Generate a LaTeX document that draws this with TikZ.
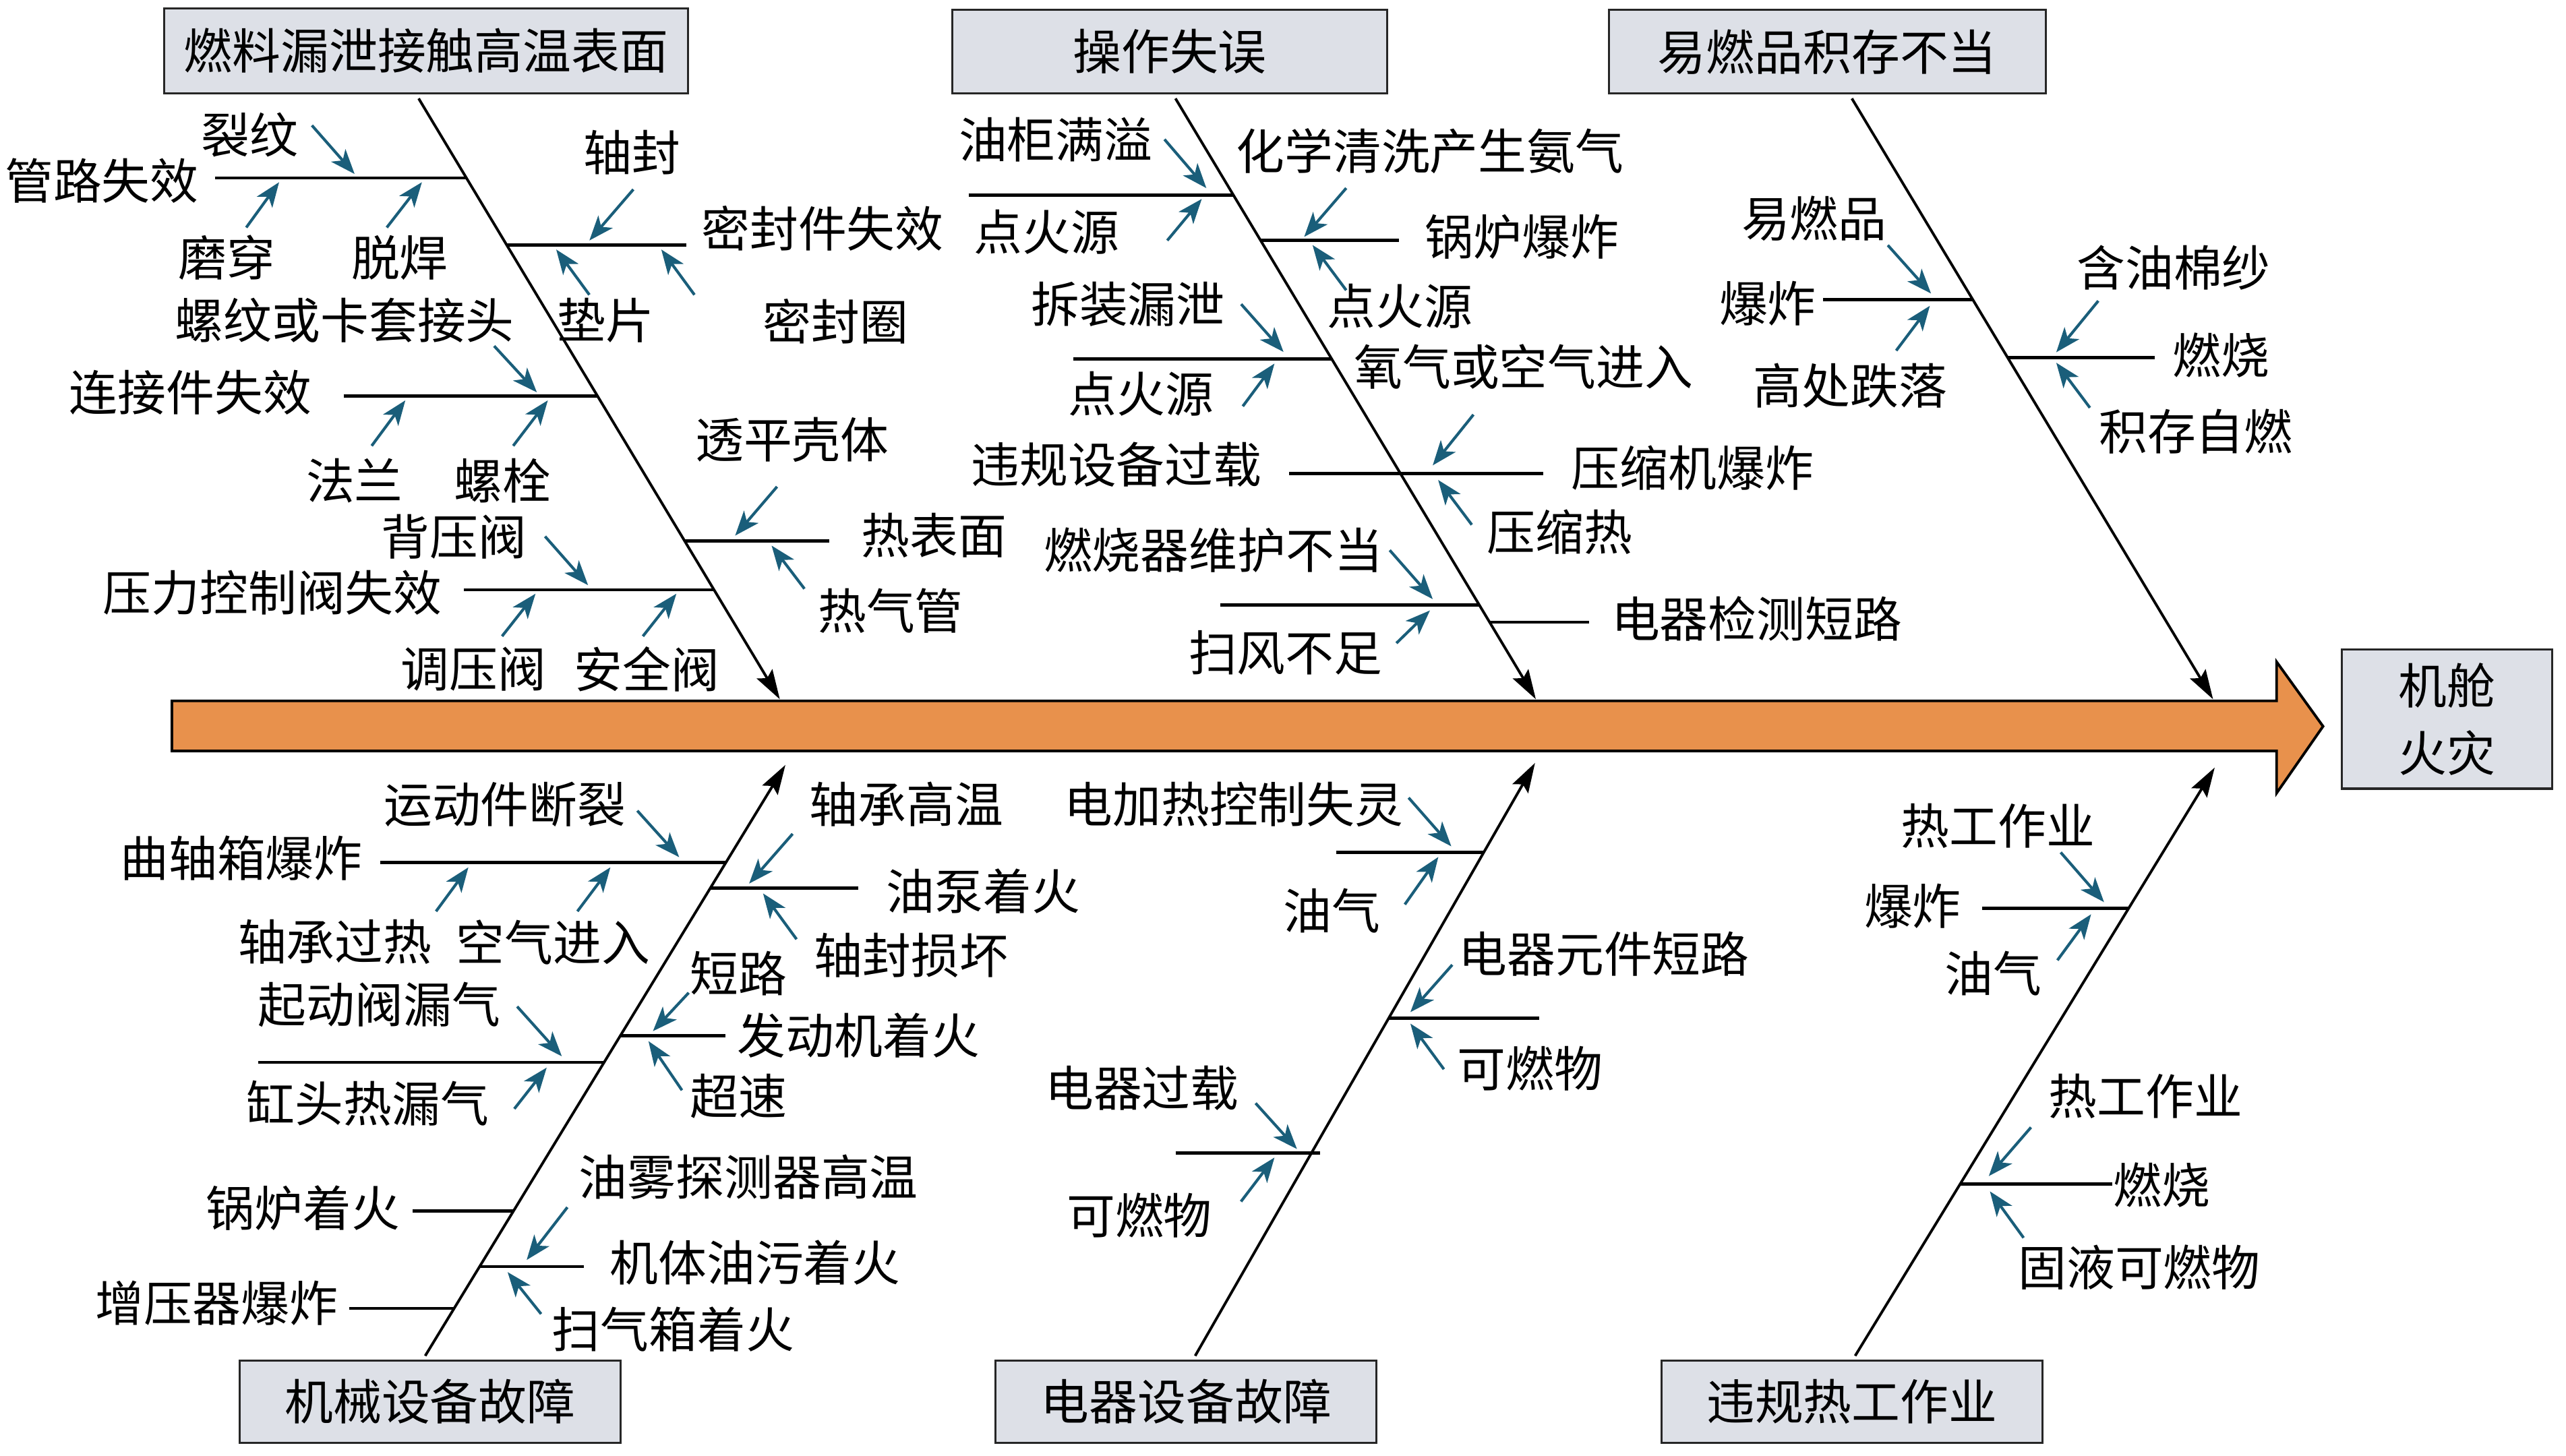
\documentclass[tikz,border=0pt]{standalone}
\usepackage{fontspec}
\setmainfont{Noto Sans CJK SC}
\usetikzlibrary{arrows.meta}
\definecolor{cbox}{RGB}{221,224,231}
\definecolor{corange}{RGB}{232,145,76}
\definecolor{cblue}{RGB}{26,94,122}
\begin{document}
\begin{tikzpicture}[x=1pt,y=-1pt,
  every node/.style={font=\fontsize{29.5}{33}\selectfont, inner sep=0pt, text=black},
  catbox/.style={draw=black!85, fill=cbox, line width=1.3pt, minimum height=51pt},
  branch/.style={line width=1.9pt, black},
  spine/.style={line width=1.6pt, black, -{Stealth[length=18pt,width=11pt,inset=3pt]}},
  cause/.style={cblue, line width=1.7pt, -{Stealth[length=15pt,width=11.5pt,inset=4pt]}}]
\useasboundingbox (0,0) rectangle (1563,887);
% main arrow
\draw[fill=corange, line width=1.6pt, line join=miter]
  (104.7,427) -- (1386.7,427) -- (1386.7,403.2) -- (1415,442.5) -- (1386.7,483.2)
  -- (1386.7,457.5) -- (104.7,457.5) -- cycle;
% effect box
\node[catbox, minimum width=128pt, minimum height=85pt, align=center,
  font=\fontsize{29.5}{41}\selectfont] (effect) at (1490.5,438) {机舱\\火灾};
% category boxes
\node[catbox, minimum width=319pt, minimum height=52pt] (c1) at (259.5,31) {燃料漏泄接触高温表面};
\node[catbox, minimum width=265pt] (c2) at (712.5,31.5) {操作失误};
\node[catbox, minimum width=266pt] (c3) at (1113,31.5) {易燃品积存不当};
\node[catbox, minimum width=232pt, minimum height=50pt] (c4) at (262,854) {机械设备故障};
\node[catbox, minimum width=232pt, minimum height=50pt] (c5) at (722.5,854) {电器设备故障};
\node[catbox, minimum width=232pt, minimum height=50pt] (c6) at (1128,854) {违规热工作业};
% spines
\coordinate (s1a) at (255,60);   \coordinate (s1b) at (475,426);
\coordinate (s2a) at (716,60);   \coordinate (s2b) at (935.5,426);
\coordinate (s3a) at (1128,60);  \coordinate (s3b) at (1348,426);
\coordinate (s4a) at (259,826);  \coordinate (s4b) at (478.4,466);
\coordinate (s5a) at (728,826);  \coordinate (s5b) at (935,464.8);
\coordinate (s6a) at (1130,826); \coordinate (s6b) at (1349,467.6);
\draw[spine] (s1a) -- (s1b);
\draw[spine] (s2a) -- (s2b);
\draw[spine] (s3a) -- (s3b);
\draw[spine] (s4a) -- (s4b);
\draw[spine] (s5a) -- (s5b);
\draw[spine] (s6a) -- (s6b);
% ---------- category 1 ----------
\draw[branch] (131,108.4) -- (284.1,108.4);
\draw[branch] (308.7,149.4) -- (418,149.4);
\draw[branch] (209.4,241.3) -- (364,241.3);
\draw[branch] (417.1,329.6) -- (505,329.6);
\draw[branch] (282.6,359.3) -- (434.9,359.3);
\node (a1) at (62,110) {管路失效};
\node (a2) at (152,82) {裂纹};
\node (a3) at (138,157) {磨穿};
\node (a4) at (243.5,157) {脱焊};
\node (a5) at (501,139) {密封件失效};
\node (a6) at (385,93) {轴封};
\node (a7) at (369,195) {垫片};
\node (a8) at (509,196) {密封圈};
\node (a9) at (210,195) {螺纹或卡套接头};
\node (a10) at (116,239) {连接件失效};
\node (a11) at (216,293) {法兰};
\node (a12) at (306,293) {螺栓};
\node (a13) at (276.5,327) {背压阀};
\node (a14) at (166,361) {压力控制阀失效};
\node (a15) at (288.5,407.5) {调压阀};
\node (a16) at (394,407.5) {安全阀};
\node (a17) at (482.5,268) {透平壳体};
\node (a18) at (569,326) {热表面};
\node (a19) at (542.5,372) {热气管};
\draw[cause] (190,76.4) -- (216,106);
\draw[cause] (150,138.6) -- (170,111);
\draw[cause] (235.6,138.6) -- (257,111);
\draw[cause] (385.8,115.4) -- (359,146.5);
\draw[cause] (359,179.6) -- (338.8,152);
\draw[cause] (423,179.6) -- (402.8,152);
\draw[cause] (301,210.8) -- (327,239);
\draw[cause] (226.4,271.6) -- (246.9,243.9);
\draw[cause] (312.6,271.6) -- (333.7,243.9);
\draw[cause] (332,326.8) -- (358.2,356.5);
\draw[cause] (305.8,387.6) -- (326.2,361.7);
\draw[cause] (391.6,387.6) -- (412,361.7);
\draw[cause] (473.3,296.5) -- (447.8,326.3);
\draw[cause] (490,358.7) -- (470,332.4);
% ---------- category 2 ----------
\draw[branch] (590,118.8) -- (751.3,118.8);
\draw[branch] (767.9,146.5) -- (852,146.5);
\draw[branch] (653.8,218.7) -- (811.2,218.7);
\draw[branch] (785.2,288.6) -- (940.1,288.6);
\draw[branch] (743.3,368.6) -- (901.1,368.6);
\draw[branch] (907.3,379) -- (968,379);
\node (b1) at (643,85) {油柜满溢};
\node (b2) at (637.5,141.5) {点火源};
\node (b3) at (871,92) {化学清洗产生氨气};
\node (b4) at (927,144.3) {锅炉爆炸};
\node (b5) at (852.6,186.7) {点火源};
\node (b6) at (687,185.3) {拆装漏泄};
\node (b7) at (695,240) {点火源};
\node (b8) at (928,223.5) {氧气或空气进入};
\node (b9) at (680,283) {违规设备过载};
\node (b10) at (1031,285) {压缩机爆炸};
\node (b11) at (950,324) {压缩热};
\node (b12) at (739,335) {燃烧器维护不当};
\node (b13) at (783,397.5) {扫风不足};
\node (b14) at (1070,377) {电器检测短路};
\draw[cause] (709.3,84.9) -- (734.8,114.6);
\draw[cause] (711,146.5) -- (732,121.2);
\draw[cause] (820,114.6) -- (794.4,144.3);
\draw[cause] (820,176.8) -- (799.5,149.3);
\draw[cause] (756,185.3) -- (781.8,214.4);
\draw[cause] (757,247.5) -- (776.3,221.5);
\draw[cause] (897.5,252.6) -- (872.7,283.5);
\draw[cause] (896.5,319.7) -- (876,292.4);
\draw[cause] (846.5,335.2) -- (872.7,365);
\draw[cause] (850.6,391.8) -- (871,371.9);
% ---------- category 3 ----------
\draw[branch] (1110.5,182.5) -- (1201.6,182.5);
\draw[branch] (1222.8,217.8) -- (1312.4,217.8);
\node (d1) at (1105,133) {易燃品};
\node (d2) at (1076.7,185) {爆炸};
\node (d3) at (1127,235) {高处跌落};
\node (d4) at (1324,163) {含油棉纱};
\node (d5) at (1353,216.4) {燃烧};
\node (d6) at (1337.5,263) {积存自燃};
\draw[cause] (1149.9,149.4) -- (1176.2,178.8);
\draw[cause] (1155,213.6) -- (1175.5,186.3);
\draw[cause] (1278.1,183.3) -- (1252.5,214.6);
\draw[cause] (1273,248.4) -- (1252.5,221);
% ---------- category 4 ----------
\draw[branch] (231.5,525.5) -- (442.1,525.5);
\draw[branch] (432.6,541.1) -- (522.7,541.1);
\draw[branch] (157.3,647.2) -- (368,647.2);
\draw[branch] (377.8,631) -- (442,631);
\draw[branch] (251.3,737.7) -- (312.8,737.7);
\draw[branch] (292.1,771.7) -- (355.8,771.7);
\draw[branch] (212.8,797.1) -- (276.6,797.1);
\node (e1) at (307.5,490) {运动件断裂};
\node (e2) at (147,523) {曲轴箱爆炸};
\node (e3) at (204,574) {轴承过热};
\node (e4) at (337,574) {空气进入};
\node (e5) at (552,490) {轴承高温};
\node (e6) at (599,543) {油泵着火};
\node (e7) at (555,582) {轴封损坏};
\node (e8) at (231,612) {起动阀漏气};
\node (e9) at (224,672) {缸头热漏气};
\node (e10) at (450,593) {短路};
\node (e11) at (523,631) {发动机着火};
\node (e12) at (450,668) {超速};
\node (e13) at (184.5,736) {锅炉着火};
\node (e14) at (456,717) {油雾探测器高温};
\node (e15) at (460,769) {机体油污着火};
\node (e16) at (410,810) {扫气箱着火};
\node (e17) at (132,794) {增压器爆炸};
\draw[cause] (388.2,493.9) -- (413.7,522.2);
\draw[cause] (265.6,555.2) -- (285.3,528.4);
\draw[cause] (351.7,555.2) -- (371.8,528.4);
\draw[cause] (482.8,508) -- (456.3,538.3);
\draw[cause] (485.2,572.2) -- (464.8,544.3);
\draw[cause] (315,613.2) -- (342.2,643.5);
\draw[cause] (313.3,675.5) -- (333,650.4);
\draw[cause] (419.5,604.8) -- (397.7,628.2);
\draw[cause] (415.4,664.2) -- (395,634.3);
\draw[cause] (345.6,735.5) -- (320.8,767.6);
\draw[cause] (329.6,800.5) -- (309.2,775);
% ---------- category 5 ----------
\draw[branch] (813.8,519.3) -- (903.8,519.3);
\draw[branch] (845.9,620.3) -- (937.4,620.3);
\draw[branch] (716,702.4) -- (804,702.4);
\node (f1) at (751.5,490) {电加热控制失灵};
\node (f2) at (811.4,555) {油气};
\node (f3) at (977,581) {电器元件短路};
\node (f4) at (932,651) {可燃物};
\node (f5) at (695.6,663) {电器过载};
\node (f6) at (694,740.5) {可燃物};
\draw[cause] (858,486) -- (884,515.6);
\draw[cause] (855.7,551) -- (876.1,522.1);
\draw[cause] (884.6,587.8) -- (859.1,616.6);
\draw[cause] (879.5,651.4) -- (859.1,623.6);
\draw[cause] (764.8,672.1) -- (790,700);
\draw[cause] (755.9,732) -- (776.3,705.2);
% ---------- category 6 ----------
\draw[branch] (1207.3,553.3) -- (1296.6,553.3);
\draw[branch] (1194,721.3) -- (1286.7,721.3);
\node (g1) at (1217,503) {热工作业};
\node (g2) at (1165,552) {爆炸};
\node (g3) at (1214,593) {油气};
\node (g4) at (1307,668) {热工作业};
\node (g5) at (1316.6,722) {燃烧};
\node (g6) at (1303,772) {固液可燃物};
\draw[cause] (1255.2,519.3) -- (1281.6,549.6);
\draw[cause] (1253.2,585) -- (1273.7,557);
\draw[cause] (1237.1,686.8) -- (1211.4,716.5);
\draw[cause] (1232.6,754.1) -- (1212.1,725.8);
\end{tikzpicture}
\end{document}
